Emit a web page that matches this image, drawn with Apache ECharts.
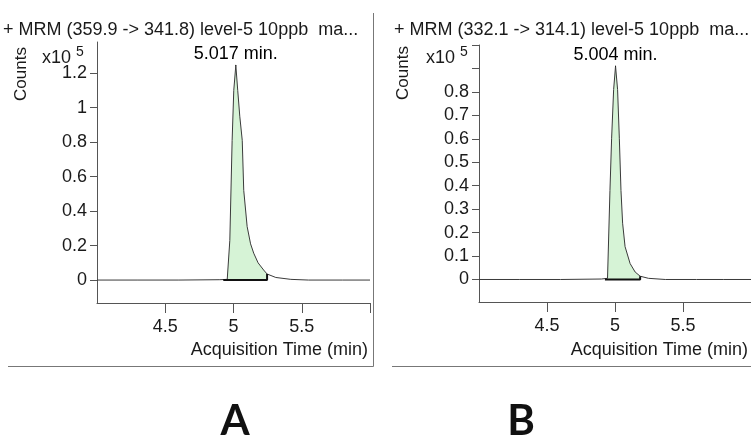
<!DOCTYPE html>
<html>
<head>
<meta charset="utf-8">
<script src="https://cdn.jsdelivr.net/npm/echarts@6/dist/echarts.min.js"></script>
<style>html,body{margin:0;padding:0;background:#fff}#c{width:751px;height:441px}</style>
</head>
<body>
<div id="c"></div>
<script>
// ---- data (counts in units of 10^5) ----
const leftTitle = '+ MRM (359.9 -> 341.8) level-5 10ppb  ma...';
const rightTitle = '+ MRM (332.1 -> 314.1) level-5 10ppb  ma...';
const xTickValues = [4.5, 5, 5.5, 6];
const xLabelValues = [4.5, 5, 5.5];
const leftYTicks = [0, 0.2, 0.4, 0.6, 0.8, 1, 1.2];
const leftYLabels = [0, 0.2, 0.4, 0.6, 0.8, 1, 1.2];
const rightYTicks = [0, 0.1, 0.2, 0.3, 0.4, 0.5, 0.6, 0.7, 0.8, 0.9, 1.0];
const rightYLabels = [0, 0.1, 0.2, 0.3, 0.4, 0.5, 0.6, 0.7, 0.8];

const leftTime   = [4.0, 4.3, 4.6, 4.9, 4.954, 4.973, 4.990, 5.002, 5.017, 5.031, 5.046, 5.064, 5.075, 5.100, 5.125, 5.148, 5.180, 5.221, 5.246, 5.31, 5.42, 5.55, 5.8, 6.0];
const leftCounts = [0, 0, 0, 0.002, 0.004, 0.23, 0.81, 1.10, 1.245, 1.10, 0.95, 0.81, 0.52, 0.31, 0.21, 0.156, 0.10, 0.058, 0.035, 0.015, 0.004, 0, 0, 0];
const leftIntegration = [4.925, 5.246];
const leftPeak = [5.017, 1.245];

const rightTime   = [4.0, 4.3, 4.6, 4.9, 4.945, 4.963, 4.975, 4.990, 5.004, 5.019, 5.032, 5.044, 5.056, 5.074, 5.111, 5.148, 5.185, 5.246, 5.37, 5.6, 5.8, 6.0];
const rightCounts = [0, 0, 0, 0.002, 0.005, 0.38, 0.60, 0.81, 0.91, 0.81, 0.60, 0.38, 0.24, 0.14, 0.068, 0.032, 0.014, 0.005, 0, 0, 0, 0];
const rightIntegration = [4.926, 5.185];
const rightPeak = [5.004, 0.91];

const panelLetters = ['A', 'B'];

// ---- helpers ----
const FONT = '"Liberation Sans", Arial, sans-serif';
const pairs = (t, c) => t.map((v, i) => [v, c[i]]);
function fillData(t, c, range) {
  return pairs(t, c).filter(p => p[0] >= range[0] - 1e-9 && p[0] <= range[1] + 1e-9);
}
function baseData(t, c, range) {
  const i = t.indexOf(range[1]);
  const h = i >= 0 ? c[i] : 0;
  return [[range[0], 0], [range[1], 0], [range[1], h]];
}

function xAxis(idx) {
  return {
    type: 'value', gridIndex: idx, min: 4, max: 6,
    axisLine: { onZero: false, lineStyle: { color: '#555', width: 1 } },
    axisTick: { customValues: xTickValues, length: 10, lineStyle: { color: '#555' } },
    axisLabel: { customValues: xLabelValues, color: '#1a1a1a', fontSize: 18, fontFamily: FONT, margin: 15,
      formatter: v => String(v) },
    splitLine: { show: false }
  };
}
function yAxis(idx, min, max, ticks, labels) {
  return {
    type: 'value', gridIndex: idx, min: min, max: max,
    axisLine: { show: true, onZero: false, lineStyle: { color: '#555', width: 1 } },
    axisTick: { show: true, customValues: ticks, length: 7, lineStyle: { color: '#555' } },
    axisLabel: { customValues: labels, color: '#1a1a1a', fontSize: 18, fontFamily: FONT, margin: 10,
      formatter: v => String(v) },
    splitLine: { show: false }
  };
}
function panelSeries(idx, t, c, range, peak) {
  return [
    { type: 'line', xAxisIndex: idx, yAxisIndex: idx, data: fillData(t, c, range), symbol: 'none',
      lineStyle: { width: 0, opacity: 0 }, areaStyle: { color: '#d6f3d6', opacity: 1, origin: 0 }, z: 1, silent: true },
    { type: 'line', xAxisIndex: idx, yAxisIndex: idx, data: pairs(t, c), symbol: 'none',
      lineStyle: { color: '#3a3a3a', width: 1 }, z: 3, silent: true },
    { type: 'line', xAxisIndex: idx, yAxisIndex: idx, data: baseData(t, c, range), symbol: 'none',
      lineStyle: { color: '#111', width: 2 }, z: 4, silent: true },
    { type: 'scatter', xAxisIndex: idx, yAxisIndex: idx, data: [peak], symbolSize: 1, silent: true,
      itemStyle: { color: '#000', opacity: 1 }, z: 5,
      label: { show: true, position: 'top', distance: 2, color: '#000', opacity: 1, fontSize: 18, fontFamily: FONT,
        textBorderWidth: 0, formatter: p => p.value[0].toFixed(3) + ' min.' } }
  ];
}

const sup = { a: { fontSize: 18, fontFamily: FONT, fill: '#1a1a1a', verticalAlign: 'bottom' },
              b: { fontSize: 14, fontFamily: FONT, fill: '#1a1a1a', verticalAlign: 'top', padding: [0, 0, 8, 0] } };

const option = {
  animation: false,
  grid: [
    { left: 97, top: 42, width: 273, height: 261 },
    { left: 479, top: 45, width: 272, height: 257 }
  ],
  xAxis: [xAxis(0), xAxis(1)],
  yAxis: [
    yAxis(0, -0.133, 1.38, leftYTicks, leftYLabels),
    yAxis(1, -0.096, 1.0, rightYTicks, rightYLabels)
  ],
  series: [].concat(
    panelSeries(0, leftTime, leftCounts, leftIntegration, leftPeak),
    panelSeries(1, rightTime, rightCounts, rightIntegration, rightPeak)
  ),
  graphic: [
    { type: 'text', x: 3, y: 30, style: { text: leftTitle, fill: '#1a1a1a', font: '18px ' + FONT, verticalAlign: 'middle' } },
    { type: 'text', x: 394, y: 30, style: { text: rightTitle, fill: '#1a1a1a', font: '18px ' + FONT, verticalAlign: 'middle' } },
    { type: 'text', x: 42, y: 45, style: { text: '{a|x10 }{b|5}', rich: sup } },
    { type: 'text', x: 426, y: 45, style: { text: '{a|x10 }{b|5}', rich: sup } },
    { type: 'text', x: 21, y: 74, rotation: Math.PI / 2, style: { text: 'Counts', fill: '#1a1a1a', font: '17px ' + FONT, align: 'center', verticalAlign: 'middle' } },
    { type: 'text', x: 403, y: 73, rotation: Math.PI / 2, style: { text: 'Counts', fill: '#1a1a1a', font: '17px ' + FONT, align: 'center', verticalAlign: 'middle' } },
    { type: 'text', x: 368, y: 350, style: { text: 'Acquisition Time (min)', fill: '#1a1a1a', font: '18px ' + FONT, align: 'right', verticalAlign: 'middle' } },
    { type: 'text', x: 748, y: 350, style: { text: 'Acquisition Time (min)', fill: '#1a1a1a', font: '18px ' + FONT, align: 'right', verticalAlign: 'middle' } },
    { type: 'line', shape: { x1: 373.5, y1: 13, x2: 373.5, y2: 366.5 }, style: { stroke: '#777', lineWidth: 1 } },
    { type: 'line', shape: { x1: 8, y1: 366.5, x2: 373.5, y2: 366.5 }, style: { stroke: '#777', lineWidth: 1 } },
    { type: 'line', shape: { x1: 392, y1: 366.5, x2: 751, y2: 366.5 }, style: { stroke: '#777', lineWidth: 1 } },
    { type: 'text', x: 235, y: 421, style: { text: panelLetters[0], fill: '#111', font: 'bold 42px Lato, "Open Sans", sans-serif', align: 'center', verticalAlign: 'middle' } },
    { type: 'text', x: 521, y: 421, style: { text: panelLetters[1], fill: '#111', font: 'bold 42px Lato, "Open Sans", sans-serif', align: 'center', verticalAlign: 'middle' } }
  ]
};
echarts.init(document.getElementById('c'), null, { renderer: 'canvas' }).setOption(option);
</script>
</body>
</html>
